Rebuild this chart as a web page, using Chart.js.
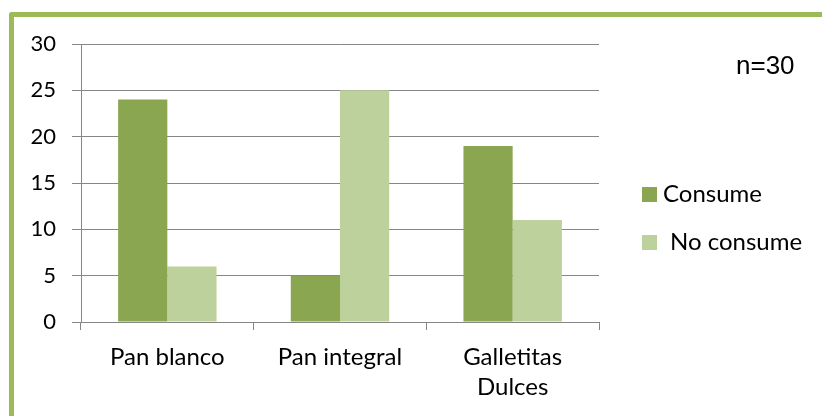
<!DOCTYPE html>
<html>
<head>
<meta charset="utf-8">
<script src="https://cdn.jsdelivr.net/npm/chart.js@4"></script>
<style>
  html, body { margin: 0; padding: 0; background: #fff; }
  #wrap { width: 822px; height: 416px; }
</style>
</head>
<body>
<div id="wrap"><canvas id="chart" width="822" height="416"></canvas></div>
<script>
// chart data
const categories = ["Pan blanco", "Pan integral", ["Galletitas", "Dulces"]];
const consume = [24, 5, 19];
const noConsume = [6, 25, 11];
const seriesNames = ["Consume", "No consume"];
const yTicks = [0, 5, 10, 15, 20, 25, 30];
const note = "n=30";

const FONT = "Lato, 'Open Sans', sans-serif";

// white background + green frame like the source
const framePlugin = {
  id: "frame",
  beforeDraw(chart) {
    const ctx = chart.ctx;
    ctx.save();
    ctx.fillStyle = "#fff";
    ctx.fillRect(0, 0, chart.width, chart.height);
    ctx.strokeStyle = "#9bbb59";
    ctx.lineWidth = 5;
    ctx.lineJoin = "round";
    ctx.beginPath();
    ctx.moveTo(11.5, chart.height + 5);
    ctx.lineTo(11.5, 14.5);
    ctx.lineTo(chart.width + 5, 14.5);
    ctx.stroke();
    ctx.restore();
  }
};

// legend and n=30 note on the right
const sidePlugin = {
  id: "side",
  afterDraw(chart) {
    const ctx = chart.ctx;
    ctx.save();
    ctx.textBaseline = "middle";
    ctx.fillStyle = "#000";
    ctx.font = "26px 'Liberation Sans', Arial, sans-serif";
    ctx.fillText(note, 736, 67);

    const rows = [{ y: 194, tx: 663 }, { y: 242, tx: 670 }];
    chart.data.datasets.forEach((ds, i) => {
      ctx.fillStyle = ds.backgroundColor;
      ctx.fillRect(642, rows[i].y - 7, 15, 15);
      ctx.fillStyle = "#000";
      ctx.font = "24px " + FONT;
      ctx.fillText(ds.label, rows[i].tx, rows[i].y);
    });
    ctx.restore();
  }
};

new Chart(document.getElementById("chart"), {
  type: "bar",
  data: {
    labels: categories,
    datasets: [
      { label: seriesNames[0], data: consume, backgroundColor: "#8ba650" },
      { label: seriesNames[1], data: noConsume, backgroundColor: "#bcd19b" }
    ]
  },
  options: {
    responsive: false,
    animation: false,
    layout: { padding: { top: 44, right: 223, bottom: 0, left: 0 } },
    plugins: {
      legend: { display: false },
      tooltip: { enabled: false }
    },
    datasets: {
      bar: { categoryPercentage: 0.57, barPercentage: 1 }
    },
    scales: {
      x: {
        afterFit(scale) { scale.height = 94; },
        border: { color: "#868686", width: 1 },
        grid: { offset: true, drawOnChartArea: false, color: "#868686", tickLength: 8 },
        ticks: { color: "#000", font: { family: FONT, size: 24, lineHeight: 1.25 }, padding: 12 }
      },
      y: {
        min: 0,
        max: 30,
        afterFit(scale) { scale.width = 81; },
        afterBuildTicks(scale) { scale.ticks = yTicks.map(v => ({ value: v })); },
        border: { color: "#868686", width: 1 },
        grid: { color: "#868686", tickLength: 9 },
        ticks: { color: "#000", font: { family: FONT, size: 22 }, padding: 16 }
      }
    }
  },
  plugins: [framePlugin, sidePlugin]
});
</script>
</body>
</html>
